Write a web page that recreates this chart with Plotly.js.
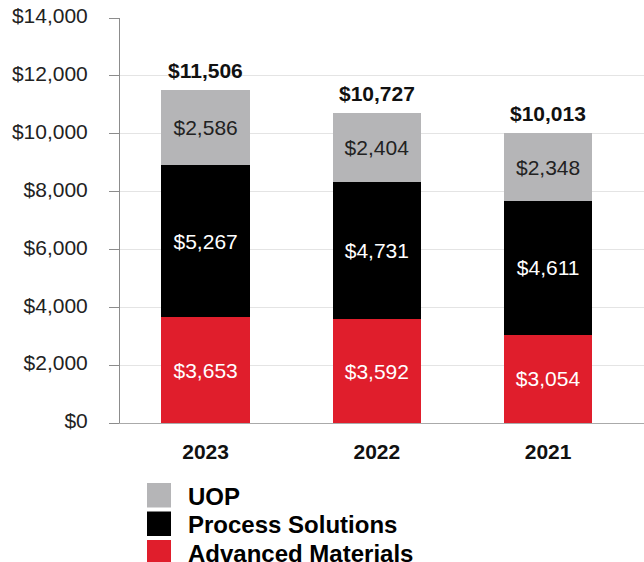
<!DOCTYPE html>
<html>
<head>
<meta charset="utf-8">
<script src="https://cdn.plot.ly/plotly-3.0.1.min.js"></script>
<style>
html,body{margin:0;padding:0;background:#fff;}
#chart{width:644px;height:562px;}
</style>
</head>
<body>
<div id="chart"></div>
<script>
var years = ['2023', '2022', '2021'];
var advancedMaterials = [3653, 3592, 3054];
var processSolutions = [5267, 4731, 4611];
var uop = [2586, 2404, 2348];
var seriesNames = ['Advanced Materials', 'Process Solutions', 'UOP'];
var seriesColors = ['#e01e2c', '#000000', '#b5b5b7'];
var seriesTextColors = ['#ffffff', '#ffffff', '#222222'];
var yTickVals = [0, 2000, 4000, 6000, 8000, 10000, 12000, 14000];

var seriesValues = [advancedMaterials, processSolutions, uop];
var FONT = '"Liberation Sans", Arial, sans-serif';

var traces = seriesValues.map(function (vals, i) {
  return {
    type: 'bar',
    name: seriesNames[i],
    x: years,
    y: vals,
    marker: {color: seriesColors[i], line: {width: 0}},
    width: 0.518,
    texttemplate: '%{y:$,.0f}',
    textposition: 'inside',
    insidetextanchor: 'middle',
    textangle: 0,
    constraintext: 'none',
    insidetextfont: {family: FONT, size: 21, color: seriesTextColors[i]},
    hoverinfo: 'skip',
    showlegend: false
  };
});

var totals = years.map(function (y, j) {
  return seriesValues.reduce(function (s, arr) { return s + arr[j]; }, 0);
});

// total labels above each stack (x given as category index)
var annotations = years.map(function (y, j) {
  return {
    x: j, y: totals[j], xref: 'x', yref: 'y',
    text: '<b>$' + totals[j].toLocaleString('en-US') + '</b>',
    showarrow: false, yanchor: 'bottom', yshift: 6,
    font: {family: FONT, size: 21, color: '#111111'}
  };
});

// custom legend (large square swatches), top entry = top of stack
var shapes = [];
var legendOrder = [2, 1, 0];
legendOrder.forEach(function (si, k) {
  var top = -60 - k * 28.5;
  shapes.push({
    type: 'rect', xref: 'paper', yref: 'paper',
    xsizemode: 'pixel', ysizemode: 'pixel', xanchor: 0, yanchor: 0,
    x0: 27, x1: 51, y0: top - 24.5, y1: top,
    fillcolor: seriesColors[si], line: {width: 0}
  });
  annotations.push({
    x: 0, y: 0, xref: 'paper', yref: 'paper',
    xanchor: 'left', yanchor: 'middle',
    xshift: 66, yshift: top - 13,
    text: '<b>' + seriesNames[si] + '</b>',
    showarrow: false,
    font: {family: FONT, size: 24, color: '#000000'}
  });
});

var layout = {
  width: 644, height: 562,
  margin: {l: 120, r: 0, t: 18, b: 139},
  paper_bgcolor: '#ffffff', plot_bgcolor: '#ffffff',
  barmode: 'stack',
  font: {family: FONT, color: '#222222'},
  xaxis: {
    type: 'category',
    range: [-0.5, 2.56],
    showgrid: false,
    showline: true, linecolor: '#aaaaaa', linewidth: 1,
    ticks: '', ticklabelstandoff: 10,
    tickfont: {family: FONT, size: 21, color: '#111111', weight: 'bold'},
    fixedrange: true
  },
  yaxis: {
    range: [0, 14000],
    tickvals: yTickVals,
    tickformat: '$,.0f',
    showgrid: true, gridcolor: '#e4e4e4', gridwidth: 1,
    zeroline: false,
    showline: true, linecolor: '#8c8c8c', linewidth: 1,
    ticks: 'outside', ticklen: 10, tickcolor: '#8c8c8c',
    ticklabelstandoff: 17,
    ticklabelshift: -2,
    tickfont: {family: FONT, size: 21, color: '#222222'},
    fixedrange: true
  },
  showlegend: false,
  shapes: shapes,
  annotations: annotations
};

Plotly.newPlot('chart', traces, layout, {displayModeBar: false, staticPlot: true});
</script>
</body>
</html>
